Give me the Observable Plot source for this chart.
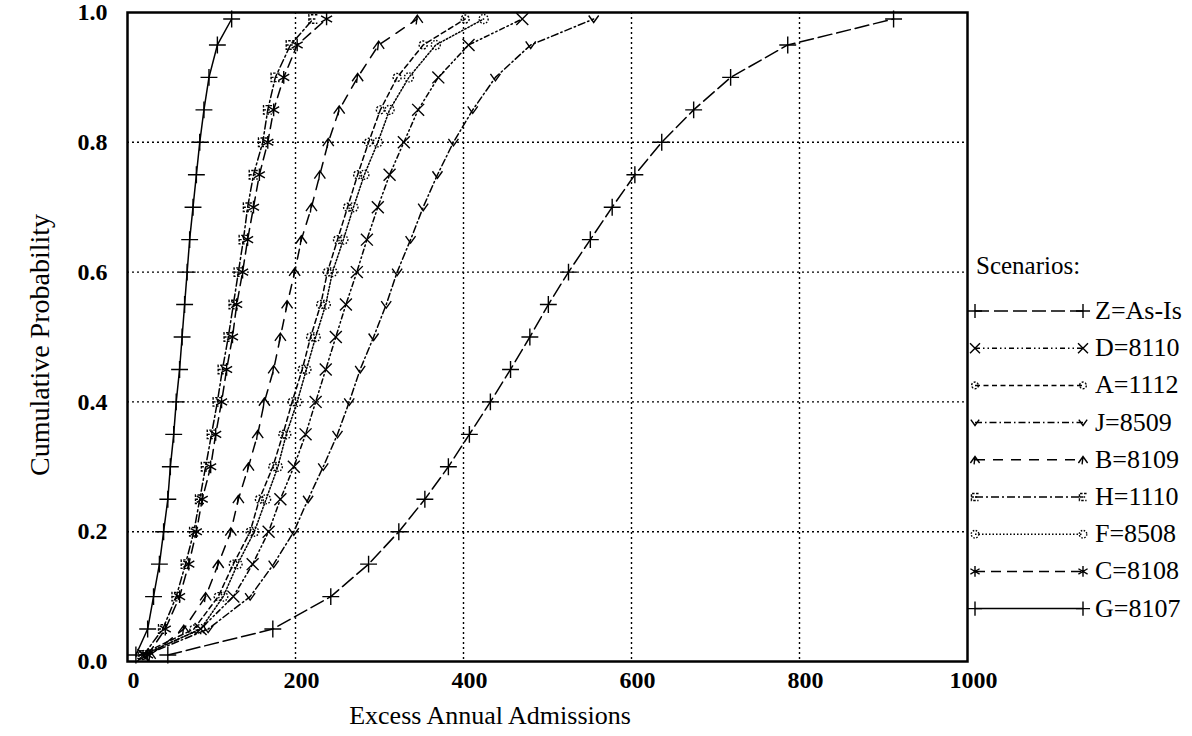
<!DOCTYPE html>
<html><head><meta charset="utf-8">
<script src="https://cdn.jsdelivr.net/npm/d3@7"></script>
<script src="https://cdn.jsdelivr.net/npm/@observablehq/plot@0.6"></script>
<style>
body{margin:0;background:#fff;}
#wrap{position:relative;width:1192px;height:736px;font-family:"Liberation Serif","Times New Roman",serif;color:#000;background:#fff;}
.ytitle{position:absolute;left:40px;top:345px;transform:translate(-50%,-50%) rotate(-90deg);font-size:28px;white-space:nowrap;}
.xtitle{position:absolute;left:490px;top:716px;transform:translate(-50%,-50%);font-size:26px;white-space:nowrap;}
#legend{position:absolute;left:960px;top:240px;}
svg.mainchart text{font-size:24px;font-weight:bold;}
</style></head><body>
<div id="wrap"><div class="ytitle">Cumulative Probability</div><div class="xtitle">Excess Annual Admissions</div></div>
<script>
// ---- data ----
const probs = [0.01, 0.05, 0.10, 0.15, 0.20, 0.25, 0.30, 0.35, 0.40, 0.45, 0.50, 0.55, 0.60, 0.65, 0.70, 0.75, 0.80, 0.85, 0.90, 0.95, 0.99];
const seriesLabels = ["Z=As-Is", "D=8110", "A=1112", "J=8509", "B=8109", "H=1110", "F=8508", "C=8108", "G=8107"];
const valuesZ = [48, 173, 242, 287, 323, 354, 382, 407, 432, 456, 479, 501, 525, 551, 577, 604, 636, 674, 718, 786, 912];
const valuesD = [19, 87, 126, 149, 168, 182, 198, 212, 224, 236, 248, 260, 273, 285, 298, 312, 329, 346, 370, 406, 470];
const valuesA = [15, 79, 108, 126, 146, 157, 173, 185, 196, 208, 218, 230, 238, 250, 262, 274, 287, 301, 321, 352, 402];
const valuesJ = [21, 96, 146, 174, 198, 215, 233, 250, 264, 277, 293, 308, 321, 337, 352, 369, 388, 411, 438, 480, 555];
const valuesB = [27, 67, 93, 108, 123, 132, 144, 155, 163, 174, 182, 190, 199, 207, 219, 229, 239, 252, 274, 299, 345];
const valuesH = [19, 42, 58, 69, 79, 86, 93, 100, 107, 113, 120, 126, 132, 138, 143, 150, 161, 167, 176, 194, 221];
const valuesF = [18, 87, 114, 131, 151, 165, 179, 189, 202, 213, 224, 236, 244, 257, 269, 282, 298, 312, 335, 367, 424];
const valuesC = [24, 45, 62, 73, 82, 89, 99, 105, 112, 118, 125, 130, 137, 143, 150, 157, 167, 174, 186, 202, 237];
const valuesG = [10, 24, 31, 38, 43, 48, 51, 55, 58, 62, 65, 68, 71, 74, 78, 82, 86, 91, 97, 107, 124];
const xTicks = [0, 200, 400, 600, 800, 1000];
const yTicks = [0, 0.2, 0.4, 0.6, 0.8, 1.0];

// ---- custom marker shapes ----
const rOf = s => Math.sqrt(s / Math.PI);
const symCaret = {draw(c, s){const r = rOf(s); c.moveTo(-r, r*0.7); c.lineTo(0, -r*0.7); c.lineTo(r, r*0.7); c.moveTo(0,-r*0.7); c.lineTo(-r*0.2, r);}};
const symVee = {draw(c, s){const r = rOf(s); c.moveTo(-r, -r*0.7); c.lineTo(0, r*0.7); c.lineTo(r, -r*0.7);}};
const symCircle = {draw(c, s){const r = rOf(s); c.moveTo(r, 0); c.arc(0, 0, r, 0, 2*Math.PI);}};
const symSquare = {draw(c, s){const r = rOf(s)*0.85; c.moveTo(r,-r); c.lineTo(-r,-r); c.lineTo(-r,r); c.lineTo(r,r); c.moveTo(-r,0); c.lineTo(r*0.6,0);}};

const styles = {
  "Z=As-Is": {vals: valuesZ, dash: "14,5", symbol: "plus", r: 5.5, mdash: null},
  "D=8110": {vals: valuesD, dash: "5,3,1.5,3,1.5,3", symbol: "times", r: 5.5, mdash: null},
  "A=1112": {vals: valuesA, dash: "5,3.5", symbol: symCircle, r: 4, mdash: "2,1.5"},
  "J=8509": {vals: valuesJ, dash: "7,3,1.5,3", symbol: symVee, r: 5, mdash: null},
  "B=8109": {vals: valuesB, dash: "10,8", symbol: symCaret, r: 5.5, mdash: null},
  "H=1110": {vals: valuesH, dash: "8,3,2,3", symbol: symSquare, r: 5, mdash: "2.5,1.5"},
  "F=8508": {vals: valuesF, dash: "1.5,2", symbol: symCircle, r: 4.5, mdash: "1.5,1.5"},
  "C=8108": {vals: valuesC, dash: "10,6", symbol: "asterisk", r: 6, mdash: null},
  "G=8107": {vals: valuesG, dash: null, symbol: "plus", r: 5.5, mdash: null}
};

const marks = [
  Plot.gridX(xTicks.slice(1, -1), {stroke: "#000", strokeOpacity: 1, strokeWidth: 1.4, strokeDasharray: "2,3"}),
  Plot.gridY(yTicks.slice(1, -1), {stroke: "#000", strokeOpacity: 1, strokeWidth: 1.4, strokeDasharray: "2,3"}),
  Plot.axisX(xTicks, {tickSize: 0, tickPadding: 9, dx: 6, tickFormat: d => String(d), label: null}),
  Plot.axisY(yTicks, {tickSize: 0, tickPadding: 20, tickFormat: d => d.toFixed(1), label: null})
];
for (const name of seriesLabels) {
  const st = styles[name];
  const rows = probs.map((p, i) => ({p, x: st.vals[i]}));
  marks.push(Plot.line(rows, {x: "x", y: "p", stroke: "#000", strokeWidth: 1.5, strokeDasharray: st.dash || undefined}));
  marks.push(Plot.dot(rows, {x: "x", y: "p", symbol: st.symbol, r: st.r, stroke: "#000", fill: "none", strokeWidth: 1.4, strokeDasharray: st.mdash || undefined}));
}
marks.push(Plot.frame({stroke: "#000", strokeWidth: 2.5}));

const chart = Plot.plot({
  width: 1192, height: 736,
  marginLeft: 127, marginRight: 225, marginTop: 12, marginBottom: 75,
  x: {domain: [0, 1000]},
  y: {domain: [0, 1]},
  style: {fontFamily: "'Liberation Serif','Times New Roman',serif", fontSize: "24px", color: "#000", background: "white", overflow: "visible"},
  marks
});
chart.classList.add("mainchart");
const wrap = document.getElementById("wrap");
wrap.insertBefore(chart, wrap.firstChild);

// ---- legend ----
const lg = d3.select(wrap).append("svg").attr("id", "legend").attr("width", 232).attr("height", 390)
  .style("font-family", "'Liberation Serif','Times New Roman',serif").style("overflow", "visible");
lg.append("text").attr("x", 16).attr("y", 34).attr("font-size", 25).text("Scenarios:");
seriesLabels.forEach((name, i) => {
  const st = styles[name];
  const y = 71 + i * 37.2;
  const g = lg.append("g");
  g.append("line").attr("x1", 15).attr("x2", 123).attr("y1", y).attr("y2", y)
    .attr("stroke", "#000").attr("stroke-width", 1.5).attr("stroke-dasharray", st.dash || null);
  const sym = typeof st.symbol === "string" ? ({plus: d3.symbolPlus, times: d3.symbolTimes, asterisk: d3.symbolAsterisk})[st.symbol] : st.symbol;
  for (const x of [15, 123]) {
    g.append("path").attr("d", d3.symbol(sym, Math.PI * st.r * st.r * 0.7)()).attr("transform", `translate(${x},${y})`)
      .attr("fill", "none").attr("stroke", "#000").attr("stroke-width", 1.4).attr("stroke-dasharray", st.mdash || null);
  }
  g.append("text").attr("x", 135).attr("y", y + 8).attr("font-size", 26).text(name);
});
</script>
</body></html>
